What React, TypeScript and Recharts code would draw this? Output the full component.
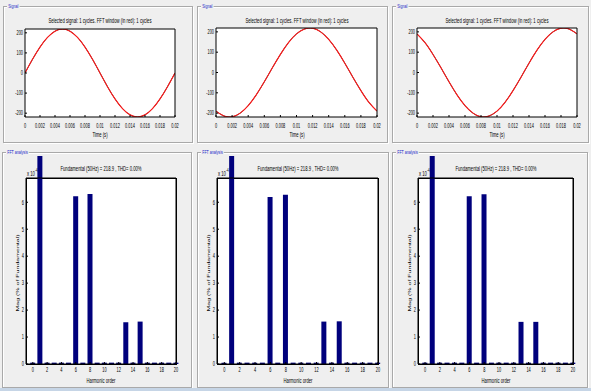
import React from 'react';
import { LineChart, Line, BarChart, Bar, XAxis, YAxis } from 'recharts';

const FONT = "'Liberation Sans', Arial, sans-serif";
const SQUEEZE = 0.6; // the screenshot is squeezed horizontally

// ---- signal window (one cycle at 50 Hz) ----
const signalTime = [0, 0.001, 0.002, 0.003, 0.004, 0.005, 0.006, 0.007, 0.008, 0.009, 0.01,
  0.011, 0.012, 0.013, 0.014, 0.015, 0.016, 0.017, 0.018, 0.019, 0.02];
const timeTicks = [0, 0.002, 0.004, 0.006, 0.008, 0.01, 0.012, 0.014, 0.016, 0.018, 0.02];
const signalTicks = [-200, -100, 0, 100, 200];
const signalLimit = 219;

const signalLeft = [0, 68, 129, 177, 208, 219, 208, 177, 129, 68, 0,
  -68, -129, -177, -208, -219, -208, -177, -129, -68, 0];
const signalMiddle = [-190, -214, -218, -200, -163, -110, -46, 23, 89, 147, 190,
  214, 218, 200, 163, 110, 46, -23, -89, -147, -190];
const signalRight = [190, 147, 89, 23, -46, -110, -163, -200, -218, -214, -190,
  -147, -89, -23, 46, 110, 163, 200, 218, 214, 190];

// ---- FFT analysis (x 10^-4 % of fundamental) ----
const harmonicOrder = [0, 1, 2, 3, 4, 5, 6, 7, 8, 9, 10, 11, 12, 13, 14, 15, 16, 17, 18, 19, 20];
const harmonicTicks = [0, 2, 4, 6, 8, 10, 12, 14, 16, 18, 20];
const magTicks = [0, 1, 2, 3, 4, 5, 6];
const fftYLimit = 6.9;
const fftXLimit = [-0.95, 20];

const fftLeft = [0.05, 7.7, 0.05, 0.05, 0.05, 0.05, 6.21, 0.05, 6.29, 0.05, 0.05,
  0.05, 0.05, 1.55, 0.05, 1.57, 0.05, 0.05, 0.05, 0.05, 0.05];
const fftMiddle = [0.05, 7.7, 0.05, 0.05, 0.05, 0.05, 6.18, 0.05, 6.27, 0.05, 0.05,
  0.05, 0.05, 1.57, 0.05, 1.58, 0.05, 0.05, 0.05, 0.05, 0.05];
const fftRight = [0.05, 7.7, 0.05, 0.05, 0.05, 0.05, 6.21, 0.05, 6.28, 0.05, 0.05,
  0.05, 0.05, 1.56, 0.05, 1.56, 0.05, 0.05, 0.05, 0.05, 0.05];

const signalTitle = 'Selected signal: 1 cycles. FFT window (in red): 1 cycles';
const fftTitle = 'Fundamental (50Hz) = 218.9 , THD= 0.00%';

// layout
const TOP_FRAMES = [
  { l: 3, t: 6, w: 190, h: 137 },
  { l: 197, t: 6, w: 191, h: 137 },
  { l: 392, t: 6, w: 197, h: 137 },
];
const BOTTOM_FRAMES = [
  { l: 2, t: 152, w: 190, h: 236 },
  { l: 197, t: 152, w: 192, h: 236 },
  { l: 392, t: 152, w: 196, h: 236 },
];
const SIGNAL_BOXES = [
  { l: 25, r: 175, t: 29, b: 117 },
  { l: 216, r: 377, t: 28, b: 117 },
  { l: 417, r: 577, t: 28, b: 117 },
];
const FFT_BOXES = [
  { l: 26, r: 176, t: 178, b: 364 },
  { l: 217, r: 378, t: 178, b: 364 },
  { l: 418, r: 573, t: 178, b: 364 },
];

type Box = { l: number; r: number; t: number; b: number };

function Squeezed({ x, y, size = 7, color = '#000', rotate = false, left = false, bg, children }: any) {
  const base = left ? 'translateY(-50%)' : 'translate(-50%,-50%)';
  return (
    <div
      style={{
        position: 'absolute', left: x, top: y, fontSize: size, fontFamily: FONT, color,
        whiteSpace: 'nowrap', lineHeight: 1, background: bg, padding: bg ? '0 2px' : 0,
        transformOrigin: left ? '0 50%' : '50% 50%',
        transform: `${base} scaleX(${SQUEEZE})${rotate ? ' rotate(-90deg)' : ''}`,
      }}
    >
      {children}
    </div>
  );
}

function SqTick(props: any) {
  const { x, y, payload, anchor } = props;
  return (
    <text
      transform={`translate(${x},${y}) scale(${SQUEEZE},1)`}
      textAnchor={anchor}
      dy="0.35em"
      fontSize={6.5}
      fontFamily={FONT}
      fill="#000"
    >
      {payload.value}
    </text>
  );
}

function Frame({ f, label }: any) {
  return (
    <>
      <div
        style={{
          position: 'absolute', left: f.l, top: f.t, width: f.w - 2, height: f.h - 2,
          border: '1px solid #a9a9a9', boxShadow: 'inset 1px 1px 0 #fff, 1px 1px 0 #fff',
        }}
      />
      <Squeezed x={f.l + 4} y={f.t} size={6} color="#1a1ac8" left bg="#efefef">{label}</Squeezed>
    </>
  );
}

// MATLAB style box: four axes, ticks pointing inwards, labels on left and bottom.
// Each axis gets 1px of room, the rest of the space sits in the margins.
const ML = 26, MR = 6, MT = 4, MB = 16;
const LINE = { stroke: '#000', strokeWidth: 1 };

function boxAxes(xDomain: number[], xTicks: number[], yDomain: number[], yTicks: number[], bottomGap: number) {
  return [
    <XAxis key="xb" dataKey="x" type="number" domain={xDomain} ticks={xTicks} interval={0} height={1}
      allowDataOverflow stroke="#000" axisLine={LINE} tickLine={LINE} tickSize={-2} tickMargin={bottomGap}
      tick={(p: any) => <SqTick {...p} anchor="middle" />} />,
    <XAxis key="xt" xAxisId="top" orientation="top" type="number" domain={xDomain} ticks={xTicks}
      interval={0} height={1} allowDataOverflow stroke="#000" axisLine={LINE} tickLine={LINE}
      tickSize={-2} tick={false} />,
    <YAxis key="yl" type="number" domain={yDomain} ticks={yTicks} interval={0} width={1}
      allowDataOverflow stroke="#000" axisLine={LINE} tickLine={LINE} tickSize={-2} tickMargin={4}
      tick={(p: any) => <SqTick {...p} anchor="end" />} />,
    <YAxis key="yr" yAxisId="right" orientation="right" type="number" domain={yDomain} ticks={yTicks}
      interval={0} width={1} allowDataOverflow stroke="#000" axisLine={LINE} tickLine={LINE}
      tickSize={-2} tick={false} />,
  ];
}

function SignalPlot({ box, values }: { box: Box; values: number[] }) {
  const data = signalTime.map((x, i) => ({ x, v: values[i] }));
  const w = box.r - box.l + ML + MR;
  const h = box.b - box.t + MT + MB;
  return (
    <>
      <div style={{ position: 'absolute', left: box.l, top: box.t, width: box.r - box.l, height: box.b - box.t, background: '#fff' }} />
      <div style={{ position: 'absolute', left: box.l - ML, top: box.t - MT }}>
        <LineChart width={w} height={h} data={data} margin={{ top: MT - 1, right: MR - 1, bottom: MB - 1, left: ML - 1 }}>
          {boxAxes([0, 0.02], timeTicks, [-signalLimit, signalLimit], signalTicks, 10.7)}
          <Line type="natural" dataKey="v" stroke="#000" strokeWidth={0.8} dot={false} isAnimationActive={false} />
          <Line type="natural" dataKey="v" stroke="#ff1a1a" strokeWidth={1.1} dot={false} isAnimationActive={false} />
        </LineChart>
      </div>
      <Squeezed x={(box.l + box.r) / 2} y={20} size={7}>{signalTitle}</Squeezed>
      <Squeezed x={(box.l + box.r) / 2} y={133.5} size={7}>Time (s)</Squeezed>
    </>
  );
}

function FftPlot({ box, values }: { box: Box; values: number[] }) {
  // the fundamental runs past the top of the axes box, so the bars get their own taller plot
  const peak = Math.max(...values);
  const plotTop = Math.round(box.b - ((box.b - box.t) * peak) / fftYLimit);
  const data = harmonicOrder.map((x, i) => ({ x, mag: values[i] }));
  const w = box.r - box.l + ML + MR;
  return (
    <>
      <div
        style={{
          position: 'absolute', left: box.l, top: box.t, width: box.r - box.l + 1, height: box.b - box.t + 1,
          background: '#fff', border: '1px solid #000', boxSizing: 'border-box',
        }}
      />
      <div style={{ position: 'absolute', left: box.l - ML, top: plotTop - MT }}>
        <BarChart width={w} height={box.b - plotTop + MT + MB} data={data}
          margin={{ top: MT, right: MR, bottom: MB, left: ML }}>
          <XAxis dataKey="x" type="number" domain={[fftXLimit[0], fftXLimit[1]]} hide />
          <YAxis type="number" domain={[0, peak]} hide />
          <Bar dataKey="mag" fill="#00007c" barSize={5} isAnimationActive={false} />
        </BarChart>
      </div>
      <div style={{ position: 'absolute', left: box.l - ML, top: box.t - MT }}>
        <LineChart width={w} height={box.b - box.t + MT + MB} data={data}
          margin={{ top: MT - 1, right: MR - 1, bottom: MB - 1, left: ML - 1 }}>
          {boxAxes([fftXLimit[0], fftXLimit[1]], harmonicTicks, [0, fftYLimit], magTicks, 8)}
          <Line dataKey="mag" stroke="none" dot={false} activeDot={false} isAnimationActive={false} />
        </LineChart>
      </div>
      <Squeezed x={(box.l + box.r) / 2} y={168} size={7}>{fftTitle}</Squeezed>
      <Squeezed x={box.l + 1} y={171.5} size={7} left>
        x 10<sup style={{ fontSize: 5, verticalAlign: 4 }}>-4</sup>
      </Squeezed>
      <Squeezed x={(box.l + box.r) / 2} y={379.5} size={7}>Harmonic order</Squeezed>
      <Squeezed x={box.l - 9} y={(box.t + box.b) / 2 + 2} size={7} rotate>Mag (% of Fundamental)</Squeezed>
    </>
  );
}

const signals = [signalLeft, signalMiddle, signalRight];
const ffts = [fftLeft, fftMiddle, fftRight];

export default function App() {
  return (
    <div style={{ position: 'absolute', left: 0, top: 0, width: 591, height: 391, background: '#efefef', overflow: 'hidden' }}>
      {TOP_FRAMES.map((f, i) => <Frame key={`tf${i}`} f={f} label="Signal" />)}
      {BOTTOM_FRAMES.map((f, i) => <Frame key={`bf${i}`} f={f} label="FFT analysis" />)}
      {SIGNAL_BOXES.map((b, i) => <SignalPlot key={`s${i}`} box={b} values={signals[i]} />)}
      {FFT_BOXES.map((b, i) => <FftPlot key={`f${i}`} box={b} values={ffts[i]} />)}
      <div style={{ position: 'absolute', left: 0, top: 388, width: 591, height: 3, background: '#c6d5e6' }} />
    </div>
  );
}
